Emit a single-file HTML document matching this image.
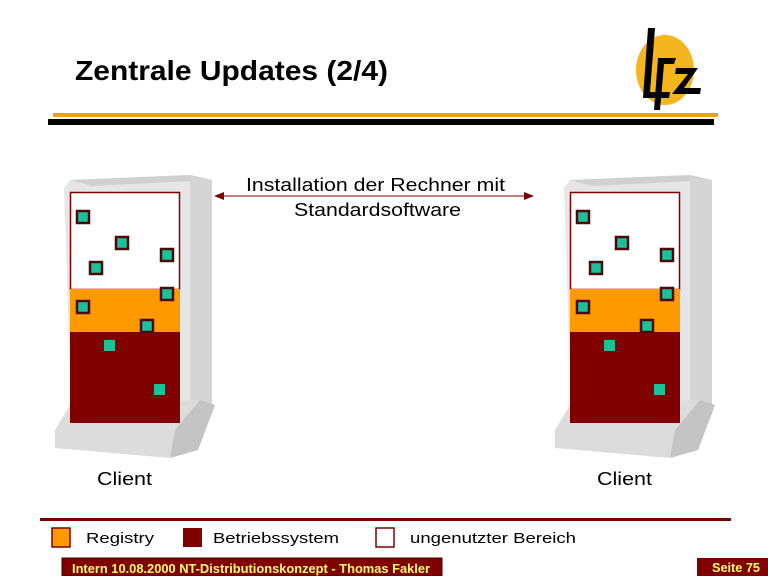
<!DOCTYPE html><html><head><style>body{margin:0;background:#fff}svg{display:block}text{font-family:"Liberation Sans",sans-serif}</style></head><body>
<svg width="768" height="576" viewBox="0 0 768 576" xmlns="http://www.w3.org/2000/svg">
<text x="75" y="80" font-size="28" font-weight="bold" fill="#000" textLength="313" lengthAdjust="spacingAndGlyphs">Zentrale Updates (2/4)</text>
<ellipse cx="665" cy="70" rx="29" ry="35" fill="#f4b520"/>
<path d="M648 28 L655 28 L650 92 L670 92 L669 98 L643 98 Z" fill="#000"/>
<path d="M658 58 L676 58 L674 64 L664 64 L660 110 L654 110 Z" fill="#000"/>
<path d="M676 68 L698 68 L684 88 L701 88 L700 94 L672 94 L688 74 L675 74 Z" fill="#000"/>
<rect x="53" y="113" width="665" height="4" fill="#f4a000"/>
<rect x="48" y="119" width="666" height="6" fill="#000"/>
<g id="c">
<path d="M64 188 L70 180 L190 175 L212 180 L212 415 L190 430 L72 430 Z" fill="#e6e6e6"/>
<path d="M70 180 L190 175 L212 180 L92 186 Z" fill="#d0d0d0"/>
<path d="M190 178 L212 180 L212 412 L190 424 Z" fill="#d5d5d5"/>
<path d="M55 430 L70 405 L200 400 L215 405 L198 450 L170 458 L55 448 Z" fill="#dcdcdc"/>
<path d="M175 430 L200 400 L215 405 L198 450 L170 458 Z" fill="#c4c4c4"/>
<rect x="70.5" y="192.5" width="109" height="97" fill="#fff" stroke="#800000" stroke-width="1.5"/>
<rect x="70" y="289" width="110" height="43" fill="#ff9900"/>
<rect x="70" y="332" width="110" height="91" fill="#800000"/>
<g fill="#19c39a" stroke="#4a0a0a" stroke-width="2.5">
<rect x="77" y="211" width="12" height="12"/><rect x="116" y="237" width="12" height="12"/><rect x="161" y="249" width="12" height="12"/><rect x="90" y="262" width="12" height="12"/><rect x="161" y="288" width="12" height="12"/><rect x="77" y="301" width="12" height="12"/><rect x="141" y="320" width="12" height="12"/>
</g>
<g fill="#19c39a"><rect x="104" y="340" width="11" height="11"/><rect x="154" y="384" width="11" height="11"/></g>
<text x="97" y="485" font-size="18" textLength="55" lengthAdjust="spacingAndGlyphs">Client</text>
</g>
<use href="#c" transform="translate(500,0)"/>
<line x1="222" y1="196" x2="526" y2="196" stroke="#800000" stroke-width="1"/>
<path d="M214 196 L224 192 L224 200 Z M534 196 L524 192 L524 200 Z" fill="#800000"/>
<text x="246" y="191" font-size="18" textLength="259" lengthAdjust="spacingAndGlyphs">Installation der Rechner mit</text>
<text x="294" y="216" font-size="18" textLength="167" lengthAdjust="spacingAndGlyphs">Standardsoftware</text>
<rect x="40" y="518" width="691" height="3" fill="#800000"/>
<rect x="52" y="528" width="18" height="19" fill="#ff9900" stroke="#800000" stroke-width="1.5"/>
<text x="86" y="543" font-size="15" textLength="68" lengthAdjust="spacingAndGlyphs">Registry</text>
<rect x="183" y="528" width="19" height="19" fill="#800000"/>
<text x="213" y="543" font-size="15" textLength="126" lengthAdjust="spacingAndGlyphs">Betriebssystem</text>
<rect x="376" y="528" width="18" height="19" fill="#fff" stroke="#800000" stroke-width="1.5"/>
<text x="410" y="543" font-size="15" textLength="166" lengthAdjust="spacingAndGlyphs">ungenutzter Bereich</text>
<rect x="62" y="558" width="380" height="18" fill="#800000" stroke="#400" stroke-width="1"/>
<text x="72" y="573" font-size="12.5" font-weight="bold" fill="#ffff66" textLength="358" lengthAdjust="spacingAndGlyphs">Intern 10.08.2000 NT-Distributionskonzept - Thomas Fakler</text>
<rect x="697" y="558" width="71" height="18" fill="#800000"/>
<text x="712" y="572" font-size="12.5" font-weight="bold" fill="#ffff66" textLength="48" lengthAdjust="spacingAndGlyphs">Seite 75</text>
</svg></body></html>
